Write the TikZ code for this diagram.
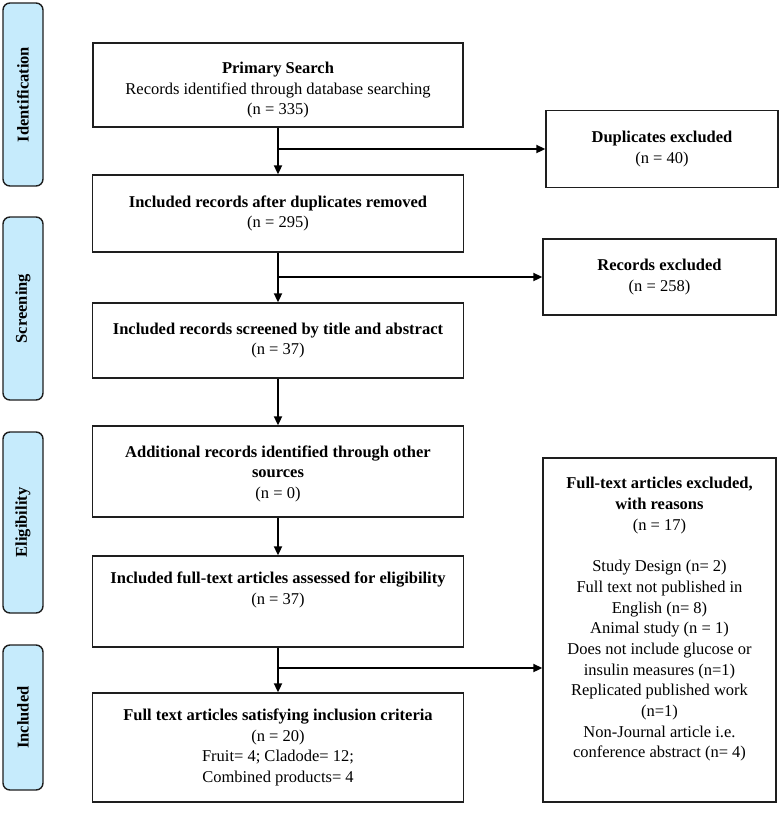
\documentclass[tikz,border=0pt]{standalone}
\usepackage{fontspec}
\setmainfont{Liberation Serif}
\usetikzlibrary{arrows.meta}
\definecolor{sidefill}{RGB}{198,235,252}
\definecolor{linecol}{RGB}{30,30,30}
\tikzset{
  box/.style={draw=linecol, line width=1.4pt, rectangle, inner sep=0pt, align=center,
    font=\fontsize{16.5}{20.7}\selectfont, text=black},
  side/.style={draw=linecol, line width=1.4pt, fill=sidefill, rounded corners=7pt,
    inner sep=0pt, minimum height=40pt, rotate=90, font=\fontsize{16.5}{18}\selectfont\bfseries},
  flow/.style={line width=2pt, draw=black, -{Triangle[length=9pt,width=8pt]}}
}
\begin{document}
\begin{tikzpicture}[x=1pt,y=-1pt]
\useasboundingbox (0,0) rectangle (782,831);
% side labels
\node[side, minimum width=183pt] (sid) at (23,94.5) {Identification};
\node[side, minimum width=183pt] (ssc) at (23,308.5) {Screening};
\node[side, minimum width=181pt] (sel) at (23,522.5) {Eligibility};
\node[side, minimum width=145pt] (sin) at (23,717.5) {Included};
% main boxes
\node[box, minimum width=370pt, minimum height=84pt] (prim) at (278,85)
  {\rule{0pt}{22pt}\textbf{Primary Search}\\Records identified through database searching\\(n = 335)};
\node[box, minimum width=371pt, minimum height=77pt] (dup) at (278,213.5)
  {\textbf{Included records after duplicates removed}\\(n = 295)};
\node[box, minimum width=371pt, minimum height=75pt] (scr) at (278,340.5)
  {\textbf{Included records screened by title and abstract}\\(n = 37)};
\node[box, minimum width=371pt, minimum height=91pt] (add) at (278,471.5)
  {\rule{0pt}{16pt}\textbf{Additional records identified through other}\\\textbf{sources}\\(n = 0)};
\node[box, minimum width=371pt, minimum height=91pt] (full) at (278,601.5)
  {\textbf{Included full-text articles assessed for eligibility}\\(n = 37)\\[6pt]};
\node[box, minimum width=371pt, minimum height=109pt] (sat) at (278,747.5)
  {\textbf{Full text articles satisfying inclusion criteria}\\(n = 20)\\Fruit= 4; Cladode= 12;\\Combined products= 4};
% exclusion boxes
\node[box, minimum width=232pt, minimum height=77pt] (dupx) at (662,149)
  {\textbf{Duplicates excluded}\\(n = 40)};
\node[box, minimum width=233pt, minimum height=76pt] (recx) at (659.5,277)
  {\textbf{Records excluded}\\(n = 258)};
\node[box, minimum width=233pt, minimum height=344pt] (ftx) at (659.5,630)
  {\textbf{Full-text articles excluded,}\\\textbf{with reasons}\\(n = 17)\\[20.7pt]
   Study Design (n= 2)\\Full text not published in\\English (n= 8)\\Animal study (n = 1)\\
   Does not include glucose or\\insulin measures (n=1)\\Replicated published work\\(n=1)\\
   Non-Journal article i.e.\\conference abstract (n= 4)\\[4pt]};
% connectors
\draw[flow] (prim) -- (dup);
\coordinate (j1) at (prim.south |- dupx.west);
\draw[flow] (j1) -- (dupx.west);
\draw[flow] (dup) -- (scr);
\coordinate (j2) at (dup.south |- recx.west);
\draw[flow] (j2) -- (recx.west);
\draw[flow] (scr) -- (add);
\draw[flow] (add) -- (full);
\draw[flow] (full) -- (sat);
\coordinate (j3) at (278,668);
\draw[flow] (j3) -- (j3 -| ftx.west);
\end{tikzpicture}
\end{document}
